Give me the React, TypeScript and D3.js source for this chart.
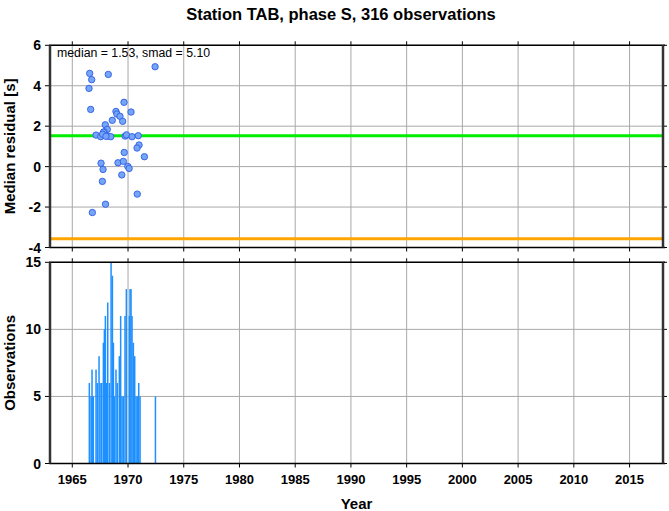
import React from "react";
import * as d3 from "d3";

const title = "Station TAB, phase S, 316 observations";
const annotation = "median = 1.53, smad = 5.10";
const medianValue = 1.53;
const lowerValue = -3.57;

const pointYears = [1972.43, 1966.56, 1968.23, 1966.74, 1966.5, 1969.64, 1966.65, 1968.92, 1970.27, 1969.0, 1969.28, 1968.59, 1969.52, 1967.96, 1968.14, 1967.85, 1967.13, 1967.55, 1967.8, 1968.2, 1968.45, 1969.74, 1969.86, 1970.36, 1970.92, 1967.72, 1968.02, 1970.99, 1970.81, 1971.47, 1969.66, 1967.58, 1969.1, 1969.58, 1967.76, 1969.98, 1970.1, 1969.44, 1967.7, 1970.83, 1967.98, 1966.8];
const pointValues = [4.94, 4.61, 4.56, 4.3, 3.87, 3.18, 2.83, 2.73, 2.7, 2.6, 2.49, 2.29, 2.24, 2.07, 1.84, 1.72, 1.56, 1.48, 1.7, 1.51, 1.48, 1.51, 1.57, 1.48, 1.53, 1.6, 1.5, 1.07, 0.92, 0.49, 0.7, 0.17, 0.19, 0.26, -0.14, 0.01, -0.09, -0.41, -0.73, -1.36, -1.86, -2.27];

const barYears = [1966.53, 1966.68, 1966.77, 1966.83, 1966.89, 1967.13, 1967.25, 1967.4, 1967.49, 1967.64, 1967.79, 1967.88, 1967.97, 1968.09, 1968.18, 1968.33, 1968.48, 1968.6, 1968.69, 1968.77, 1968.92, 1969.04, 1969.22, 1969.34, 1969.46, 1969.58, 1969.73, 1969.85, 1970.12, 1970.18, 1970.27, 1970.36, 1970.48, 1970.6, 1970.72, 1970.84, 1970.96, 1971.08, 1972.46];
const barCounts = [6, 5, 7, 5, 5, 7, 6, 8, 6, 6, 9, 10, 11, 6, 12, 6, 15, 14, 9, 5, 7, 6, 8, 11, 5, 5, 11, 13, 11, 13, 13, 11, 9, 8, 5, 5, 6, 5, 5];

const yearTicks = [1965, 1970, 1975, 1980, 1985, 1990, 1995, 2000, 2005, 2010, 2015];
const residualTicks = [-4, -2, 0, 2, 4, 6];
const countTicks = [0, 5, 10, 15];

const FONT = "'Liberation Sans', Arial, Helvetica, sans-serif";

export default function App() {
  const W = 669, H = 511;
  const left = 50, right = 663;
  const top1 = 45.3, bot1 = 247.5;
  const top2 = 262.3, bot2 = 463.5;

  const x = d3.scaleLinear().domain([1963, 2018]).range([left, right]);
  const y1 = d3.scaleLinear().domain([-4, 6]).range([bot1, top1]);
  const y2 = d3.scaleLinear().domain([0, 15]).range([bot2, top2]);

  const grid = "#a8a8a8";

  const frame = (t: number, b: number) => (
    <g>
      <line x1={left - 1} x2={right + 2} y1={t} y2={t} stroke="#000" strokeWidth={1.5} />
      <line x1={left - 1} x2={right + 2} y1={b} y2={b} stroke="#000" strokeWidth={1.5} />
      <line x1={left} x2={left} y1={t} y2={b} stroke="#333" strokeWidth={2.5} />
      <line x1={right} x2={right} y1={t} y2={b} stroke="#333" strokeWidth={2.5} />
    </g>
  );

  return (
    <svg width={W} height={H} style={{ position: "absolute", left: 0, top: 0, background: "#fff" }} fontFamily={FONT}>
      <rect width={W} height={H} fill="#fff" />
      <text x={341} y={20} textAnchor="middle" fontSize={16.5} fontWeight="bold">{title}</text>

      {/* Top panel */}
      {yearTicks.map((t) => (
        <g key={"gx1" + t}>
          <line x1={x(t)} x2={x(t)} y1={top1} y2={bot1} stroke={grid} strokeWidth={1} />
          <line x1={x(t)} x2={x(t)} y1={top1 - 4} y2={top1} stroke="#000" strokeWidth={1} />
          <line x1={x(t)} x2={x(t)} y1={bot1} y2={bot1 + 4} stroke="#000" strokeWidth={1} />
        </g>
      ))}
      {residualTicks.map((t) => (
        <g key={"gy1" + t}>
          <line x1={left} x2={right} y1={y1(t)} y2={y1(t)} stroke={grid} strokeWidth={1} />
          <line x1={left - 5} x2={left} y1={y1(t)} y2={y1(t)} stroke="#000" strokeWidth={1} />
          <line x1={right} x2={right + 4} y1={y1(t)} y2={y1(t)} stroke="#000" strokeWidth={1} />
          <text x={41} y={y1(t) + 5} textAnchor="end" fontSize={14} fontWeight="bold">{t}</text>
        </g>
      ))}
      <line x1={left} x2={right} y1={y1(medianValue)} y2={y1(medianValue)} stroke="#00ee00" strokeWidth={3} />
      <line x1={left} x2={right} y1={y1(lowerValue)} y2={y1(lowerValue)} stroke="#ffa500" strokeWidth={3} />
      {pointYears.map((yr, i) => (
        <circle key={"p" + i} cx={x(yr)} cy={y1(pointValues[i])} r={3.2} fill="#76a5f5" stroke="#2e5ee6" strokeWidth={0.9} />
      ))}
      {frame(top1, bot1)}
      <text x={57} y={57} fontSize={12.3} fontWeight="normal">{annotation}</text>
      <text transform={`translate(15,${(top1 + bot1) / 2}) rotate(-90)`} textAnchor="middle" fontSize={15} fontWeight="bold">Median residual [s]</text>

      {/* Bottom panel */}
      {yearTicks.map((t) => (
        <g key={"gx2" + t}>
          <line x1={x(t)} x2={x(t)} y1={top2} y2={bot2} stroke={grid} strokeWidth={1} />
          <line x1={x(t)} x2={x(t)} y1={top2 - 4} y2={top2} stroke="#000" strokeWidth={1} />
          <line x1={x(t)} x2={x(t)} y1={bot2} y2={bot2 + 4} stroke="#000" strokeWidth={1} />
          <text x={x(t)} y={484} textAnchor="middle" fontSize={13} fontWeight="bold">{t}</text>
        </g>
      ))}
      {countTicks.map((t) => (
        <g key={"gy2" + t}>
          <line x1={left} x2={right} y1={y2(t)} y2={y2(t)} stroke={grid} strokeWidth={1} />
          <line x1={left - 5} x2={left} y1={y2(t)} y2={y2(t)} stroke="#000" strokeWidth={1} />
          <line x1={right} x2={right + 4} y1={y2(t)} y2={y2(t)} stroke="#000" strokeWidth={1} />
          <text x={41} y={y2(t) + 5} textAnchor="end" fontSize={14} fontWeight="bold">{t}</text>
        </g>
      ))}
      {barYears.map((yr, i) => (
        <rect key={"b" + i} x={x(yr) - 0.75} width={1.5} y={y2(barCounts[i])} height={y2(0) - y2(barCounts[i])} fill="#1e90ff" />
      ))}
      {frame(top2, bot2)}
      <text transform={`translate(15,${(top2 + bot2) / 2}) rotate(-90)`} textAnchor="middle" fontSize={15} fontWeight="bold">Observations</text>
      <text x={(left + right) / 2} y={509} textAnchor="middle" fontSize={15} fontWeight="bold">Year</text>
    </svg>
  );
}
